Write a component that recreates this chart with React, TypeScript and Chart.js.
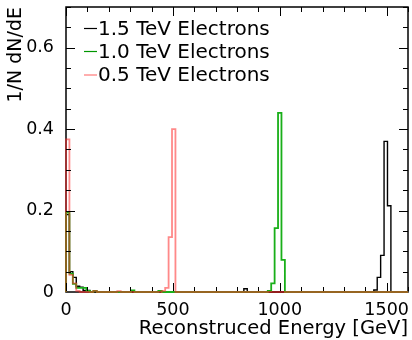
import React, { useEffect, useRef } from "react";
import { Chart, registerables } from "chart.js";

Chart.register(...registerables);

// ---- data ----
const binWidth = 16; // GeV per bin, 100 bins from 0 to 1600
const xMin = 0;
const xMax = 1600;
const yMin = 0;
const yMax = 0.7;
const xTickValues = [0, 500, 1000, 1500];
const yTickValues = [0, 0.2, 0.4, 0.6];
const xMinorStep = 100;
const yMinorStep = 0.05;
const seriesLabels = ["1.5 TeV Electrons", "1.0 TeV Electrons", "0.5 TeV Electrons"];
const xTitle = "Reconstruced Energy [GeV]";
const yTitle = "1/N dN/dE";

const electrons15 = [
  0.19, 0.05, 0.036, 0.014, 0.012, 0.004, 0.004, 0, 0, 0,
  0, 0, 0, 0, 0, 0, 0, 0, 0, 0,
  0, 0, 0, 0, 0, 0, 0, 0, 0, 0,
  0, 0, 0, 0, 0, 0, 0, 0, 0, 0,
  0, 0, 0, 0, 0, 0, 0, 0, 0, 0,
  0, 0, 0.008, 0, 0, 0, 0, 0, 0, 0,
  0, 0, 0, 0, 0, 0, 0, 0, 0, 0,
  0, 0, 0, 0, 0, 0, 0, 0, 0, 0,
  0, 0, 0, 0, 0, 0, 0, 0, 0, 0,
  0.005, 0.036, 0.09, 0.37, 0.212, 0, 0, 0, 0, 0,
];

const electrons10 = [
  0.195, 0.045, 0.02, 0.01, 0.01, 0.01, 0.003, 0, 0.003, 0,
  0, 0, 0, 0, 0, 0, 0, 0, 0, 0.004,
  0, 0, 0, 0, 0, 0, 0, 0.003, 0, 0,
  0, 0, 0, 0, 0, 0, 0, 0, 0, 0,
  0, 0, 0, 0, 0, 0, 0, 0, 0, 0,
  0, 0, 0, 0, 0, 0, 0, 0, 0, 0.003,
  0.021, 0.157, 0.44, 0.079, 0, 0, 0, 0, 0, 0,
  0, 0, 0, 0, 0, 0, 0, 0, 0, 0,
  0, 0, 0, 0, 0, 0, 0, 0, 0, 0,
  0, 0, 0, 0, 0, 0, 0, 0, 0, 0,
];

const electrons05 = [
  0.375, 0.042, 0.021, 0.003, 0, 0, 0, 0, 0.003, 0,
  0, 0, 0, 0, 0, 0.002, 0, 0, 0, 0,
  0, 0, 0, 0, 0, 0, 0, 0, 0.003, 0.01,
  0.135, 0.4, 0, 0, 0, 0, 0, 0, 0, 0,
  0, 0, 0, 0, 0, 0, 0, 0, 0, 0,
  0, 0, 0, 0, 0, 0, 0, 0, 0, 0,
  0, 0, 0, 0, 0, 0, 0, 0, 0, 0,
  0, 0, 0, 0, 0, 0, 0, 0, 0, 0,
  0, 0, 0, 0, 0, 0, 0, 0, 0, 0,
  0, 0, 0, 0, 0, 0, 0, 0, 0, 0,
];

const seriesColors = ["#000000", "rgb(25,175,25)", "rgba(255,40,40,0.55)"];
const legendColors = ["#000000", "rgb(0,150,0)", "rgba(255,60,60,0.7)"];
const FONT = "'DejaVu Sans', 'Liberation Sans', sans-serif";

function histPoints(values: number[]) {
  const pts: { x: number; y: number }[] = [{ x: xMin, y: 0 }];
  values.forEach((v, i) => pts.push({ x: xMin + i * binWidth, y: v }));
  pts.push({ x: xMin + values.length * binWidth, y: values[values.length - 1] });
  return pts;
}

const rootFrame = {
  id: "rootFrame",
  beforeDatasetsDraw(chart: any) {
    const { ctx, chartArea } = chart;
    const { left, right, top, bottom } = chartArea;
    ctx.save();
    ctx.strokeStyle = "#000";
    ctx.lineWidth = 1.5;
    ctx.strokeRect(left, top, right - left, bottom - top);
    ctx.restore();
  },
  afterDatasetsDraw(chart: any) {
    const { ctx, chartArea, scales } = chart;
    const { left, right, top, bottom } = chartArea;
    const xs = scales.x;
    const ys = scales.y;
    ctx.save();
    ctx.strokeStyle = "#000";
    ctx.lineWidth = 1;
    const seg = (x1: number, y1: number, x2: number, y2: number) => {
      ctx.beginPath();
      ctx.moveTo(x1, y1);
      ctx.lineTo(x2, y2);
      ctx.stroke();
    };
    // x ticks (bottom & top, inward)
    const nx = Math.round((xMax - xMin) / xMinorStep);
    for (let k = 0; k <= nx; k++) {
      const v = xMin + k * xMinorStep;
      const px = Math.round(xs.getPixelForValue(v)) + 0.5;
      const major = xTickValues.includes(v);
      const len = major ? 9 : 5;
      seg(px, bottom - 1, px, bottom - len);
      seg(px, top, px, top + len);
    }
    // y ticks (left & right, inward)
    const ny = Math.round((yMax - yMin) / yMinorStep);
    for (let k = 1; k <= ny; k++) {
      const v = yMin + k * yMinorStep;
      const py = Math.round(ys.getPixelForValue(v)) + 0.5;
      const major = yTickValues.some((t) => Math.abs(t - v) < 1e-9);
      const len = major ? 9 : 5;
      seg(left, py, left + len, py);
      seg(right, py, right - len, py);
    }
    ctx.restore();
  },
  afterDraw(chart: any) {
    const { ctx } = chart;
    ctx.save();
    ctx.font = `20px ${FONT}`;
    ctx.textBaseline = "middle";
    ctx.textAlign = "left";
    const x0 = 84;
    const rowY = [28.5, 51.5, 75];
    seriesLabels.forEach((label, i) => {
      ctx.strokeStyle = legendColors[i];
      ctx.lineWidth = 1.2;
      ctx.beginPath();
      ctx.moveTo(x0, rowY[i]);
      ctx.lineTo(x0 + 13, rowY[i]);
      ctx.stroke();
      ctx.fillStyle = "#000";
      ctx.fillText(label, x0 + 14, rowY[i] + 1);
    });
    ctx.restore();
  },
};

export default function App() {
  const canvasRef = useRef<HTMLCanvasElement | null>(null);

  useEffect(() => {
    document.body.style.margin = "0";
    const canvas = canvasRef.current;
    if (!canvas) return;
    const values = [electrons15, electrons10, electrons05];
    const chart = new Chart(canvas, {
      type: "line",
      data: {
        datasets: values.map((vals, i) => ({
          label: seriesLabels[i],
          data: histPoints(vals),
          stepped: "before" as const,
          borderColor: seriesColors[i],
          borderWidth: i === 0 ? 1.4 : 1.8,
          pointRadius: 0,
          fill: false,
          tension: 0,
          borderJoinStyle: "miter" as const,
          clip: 2,
          order: 2 - i,
        })),
      },
      options: {
        responsive: false,
        animation: false,
        events: [],
        layout: { padding: { top: 7, right: 4, left: 0, bottom: 0 } },
        plugins: {
          legend: { display: false },
          tooltip: { enabled: false },
        },
        scales: {
          x: {
            type: "linear",
            min: xMin,
            max: xMax,
            grid: { display: false },
            border: { display: false },
            afterFit: (s: any) => {
              s.height = 48;
              s.paddingLeft = 0;
              s.paddingRight = 0;
            },
            afterBuildTicks: (s: any) => {
              s.ticks = xTickValues.map((v) => ({ value: v }));
            },
            ticks: {
              color: "#000",
              padding: 0,
              maxRotation: 0,
              autoSkip: false,
              font: { family: FONT, size: 17.5 },
              callback: (v: any) => String(v),
            },
            title: {
              display: true,
              text: xTitle,
              align: "end",
              color: "#000",
              font: { family: FONT, size: 19.5, lineHeight: 1.2 },
              padding: { top: 0, bottom: -1 },
            },
          },
          y: {
            type: "linear",
            min: yMin,
            max: yMax,
            grid: { display: false },
            border: { display: false },
            afterFit: (s: any) => {
              s.width = 66;
              s.paddingTop = 0;
              s.paddingBottom = 0;
            },
            afterBuildTicks: (s: any) => {
              s.ticks = yTickValues.map((v) => ({ value: v }));
            },
            ticks: {
              color: "#000",
              padding: 4,
              autoSkip: false,
              font: { family: FONT, size: 17.5 },
              callback: (v: any) => String(v),
            },
            title: {
              display: true,
              text: yTitle,
              align: "end",
              color: "#000",
              font: { family: FONT, size: 19, lineHeight: 1.2 },
              padding: { top: 5, bottom: 0 },
            },
          },
        },
      },
      plugins: [rootFrame],
    });
    return () => chart.destroy();
  }, []);

  return (
    <div style={{ position: "absolute", left: 0, top: 0, width: 412, height: 340, background: "#fff" }}>
      <canvas ref={canvasRef} width={412} height={340} />
    </div>
  );
}
